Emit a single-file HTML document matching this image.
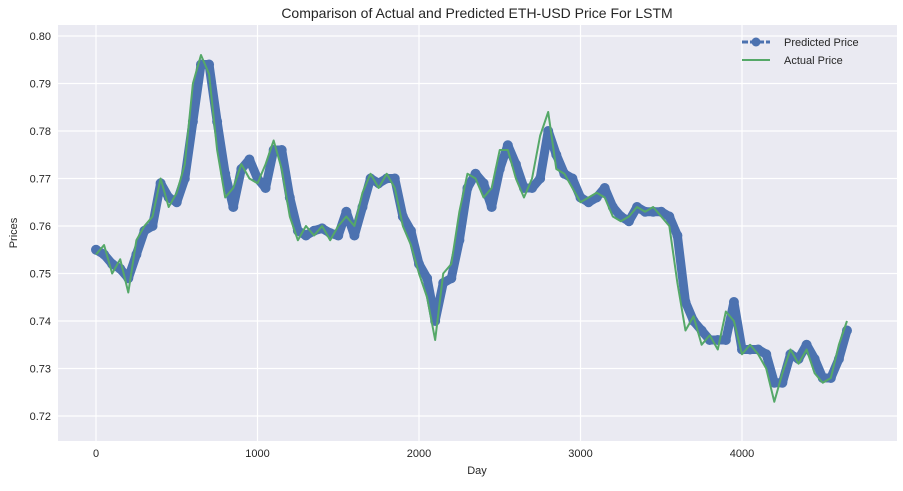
<!DOCTYPE html>
<html><head><meta charset="utf-8"><style>
body{margin:0;background:#fff;}
svg text{font-family:"Liberation Sans",sans-serif;fill:#262626;}
</style></head><body>
<svg width="903" height="486" xmlns="http://www.w3.org/2000/svg">
<text x="477" y="18" text-anchor="middle" font-size="14">Comparison of Actual and Predicted ETH-USD Price For LSTM</text>
<rect x="58" y="25" width="839" height="416" fill="#eaeaf2"/>
<g id="grid"></g>
<g id="ticks"></g>
<g id="series"></g>
<text x="477" y="474" text-anchor="middle" font-size="11">Day</text>
<text x="0" y="0" transform="translate(17,233) rotate(-90)" text-anchor="middle" font-size="11">Prices</text>
<g>
<line x1="742" y1="42" x2="770" y2="42" stroke="#4c72b0" stroke-width="3" stroke-dasharray="6,2"/>
<circle cx="756" cy="42" r="4.5" fill="#4c72b0"/>
<text x="784" y="46" font-size="11">Predicted Price</text>
<line x1="742" y1="60" x2="770" y2="60" stroke="#55a868" stroke-width="2"/>
<text x="784" y="64" font-size="11">Actual Price</text>
</g>
</svg>
<script>
const days = [];
for (let i = 0; i < 94; i++) days.push(i * 50);
const predicted = [.755,.754,.752,.751,.749,.754,.759,.760,.769,.766,.765,.770,.782,.794,.794,.782,.771,.764,.772,.774,.770,.768,.776,.776,.766,.759,.758,.759,.7595,.7585,.758,.763,.758,.764,.770,.769,.770,.770,.762,.759,.752,.749,.740,.748,.749,.757,.768,.771,.769,.764,.772,.777,.773,.768,.768,.770,.780,.775,.771,.770,.766,.765,.766,.768,.764,.762,.761,.764,.763,.763,.763,.762,.758,.744,.740,.738,.736,.736,.736,.744,.734,.734,.734,.733,.727,.727,.733,.732,.735,.732,.728,.728,.732,.738];
const actual = [.754,.756,.750,.753,.746,.757,.760,.762,.770,.764,.767,.773,.790,.796,.792,.776,.766,.768,.773,.770,.769,.773,.778,.772,.762,.757,.760,.758,.760,.757,.760,.762,.760,.767,.771,.768,.771,.768,.760,.756,.750,.745,.736,.750,.752,.763,.771,.770,.766,.768,.776,.776,.770,.766,.770,.779,.784,.772,.771,.768,.765,.766,.767,.766,.762,.761,.762,.764,.763,.764,.762,.760,.748,.738,.741,.735,.737,.734,.742,.740,.733,.735,.733,.730,.723,.729,.734,.731,.734,.729,.727,.728,.735,.740];
const yTicks = [0.72,0.73,0.74,0.75,0.76,0.77,0.78,0.79,0.80];
const xTicks = [0,1000,2000,3000,4000];
const NS = "http://www.w3.org/2000/svg";
const xs = d => 96 + d * 0.1615;
const ys = v => 36 + (0.80 - v) * 4750;
function mk(tag, attrs, parent){const e=document.createElementNS(NS,tag);for(const k in attrs)e.setAttribute(k,attrs[k]);parent.appendChild(e);return e;}
const grid=document.getElementById('grid'), ticks=document.getElementById('ticks'), ser=document.getElementById('series');
yTicks.forEach(v=>{
  const l=mk('line',{x1:58,x2:897,y1:ys(v),y2:ys(v),stroke:'#fff','stroke-width':1.2},grid);
  
  
  const t=mk('text',{x:51,y:ys(v)+4,'text-anchor':'end','font-size':11},ticks);
  t.textContent=v.toFixed(2);
  
  
});
xTicks.forEach(d=>{
  const l=mk('line',{x1:xs(d),x2:xs(d),y1:25,y2:441,stroke:'#fff','stroke-width':1.2},grid);
  
  
  const t=mk('text',{x:xs(d),y:457,'text-anchor':'middle','font-size':11},ticks);
  t.textContent=String(d);
  
  
});
const pPts=predicted.map((v,i)=>xs(days[i])+','+ys(v)).join(' ');
const pl=mk('polyline',{points:pPts,fill:'none',stroke:'#4c72b0','stroke-width':9,'stroke-linejoin':'round'},ser);


predicted.forEach((v,i)=>{
  const c=mk('circle',{cx:xs(days[i]),cy:ys(v),r:5,fill:'#4c72b0'},ser);
  
  
});
const aPts=actual.map((v,i)=>xs(days[i])+','+ys(v)).join(' ');
const al=mk('polyline',{points:aPts,fill:'none',stroke:'#55a868','stroke-width':2,'stroke-linejoin':'round'},ser);


</script>
</body></html>
